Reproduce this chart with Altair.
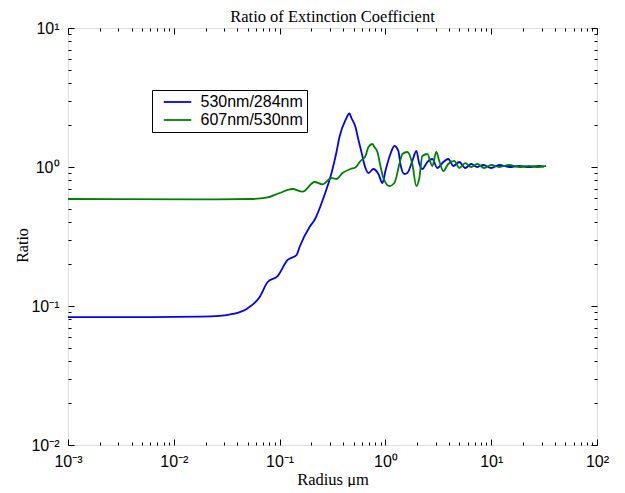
import json
import altair as alt
import pandas as pd

# ---- data ----
series_names = ["530nm/284nm", "607nm/530nm"]
series_colors = ["#0000ff", "#008000"]

blue_radius = [0.001, 0.00594, 0.01759, 0.02716, 0.03602, 0.04884, 0.06477, 0.07706, 0.09574,
               0.1190, 0.1447, 0.1544, 0.1919, 0.2139, 0.2657, 0.3095, 0.3449, 0.3681, 0.4195,
               0.4575, 0.4777, 0.5212, 0.5564, 0.5937, 0.6477, 0.6912, 0.7706, 0.8590, 0.9369,
               1.0, 1.115, 1.216, 1.326, 1.385, 1.511, 1.612, 1.797, 1.961, 2.093, 2.234, 2.490,
               2.776, 3.095, 3.526, 3.929, 4.380, 4.990, 5.684, 6.477, 7.378, 8.406, 10.0, 11.90,
               14.78, 18.37, 22.83, 28.37, 31.62]
blue_ratio = [0.0833, 0.0833, 0.0838, 0.0848, 0.0876, 0.0952, 0.1161, 0.1488, 0.1643,
              0.2143, 0.2328, 0.2657, 0.3701, 0.4156, 0.6287, 0.9053, 1.282, 1.644, 2.178,
              2.426, 2.252, 1.940, 1.564, 1.282, 0.9835, 0.9053, 0.9674, 0.8905, 0.7672,
              0.9359, 1.240, 1.416, 1.304, 1.051, 0.8905, 0.9053, 1.105, 1.304, 1.051, 0.9674, 1.086,
              1.142, 0.9835, 1.086, 1.142, 1.017, 1.086, 0.9835, 1.051, 1.0, 1.034, 0.9835, 1.034,
              1.0, 1.017, 1.0, 1.017, 1.008]

green_radius = [0.001, 0.01759, 0.05212, 0.07540, 0.1, 0.1326, 0.1648, 0.2139, 0.2545, 0.3095,
                0.3449, 0.3929, 0.4675, 0.5212, 0.5810, 0.6477, 0.6912, 0.7542, 0.7874, 0.8404,
                0.8971, 0.9574, 1.091, 1.216, 1.356, 1.447, 1.612, 1.797, 1.961, 2.093, 2.234,
                2.490, 2.776, 3.028, 3.231, 3.526, 3.929, 4.476, 4.990, 5.684, 6.477, 7.378,
                8.590, 10.0, 11.90, 14.78, 18.37, 22.83, 28.37, 33.03]
green_ratio = [0.5886, 0.5855, 0.5886, 0.6013, 0.6501, 0.6945, 0.6643, 0.7800, 0.7508, 0.8335,
               0.8198, 0.9053, 0.9674, 0.9918, 1.105, 1.200, 1.393, 1.464, 1.393, 1.282,
               1.017, 0.8335, 0.7301, 0.7672, 1.051, 1.240, 1.282, 1.051, 0.7301, 0.8335, 1.200,
               1.240, 1.017, 1.282, 1.105, 0.9359, 1.051, 1.105, 0.9835, 1.068, 1.0, 1.051,
               0.9835, 1.034, 1.0, 1.034, 1.0, 1.017, 1.0, 1.017]

x_major = [0.001, 0.01, 0.1, 1, 10, 100]
x_tick_labels = ["10\u207b\u00b3", "10\u207b\u00b2", "10\u207b\u00b9", "10\u2070", "10\u00b9", "10\u00b2"]
y_major = [0.01, 0.1, 1, 10]
y_tick_labels = ["10\u207b\u00b2", "10\u207b\u00b9", "10\u2070", "10\u00b9"]
x_minor = [m * d for d in x_major[:-1] for m in range(2, 10)]
y_minor = [m * d for d in y_major[:-1] for m in range(2, 10)]

title_text = "Ratio of Extinction Coefficient"
x_title = "Radius \u03bcm"
y_title = "Ratio"

df = pd.DataFrame({
    "radius": blue_radius + green_radius,
    "ratio": blue_ratio + green_ratio,
    "series": [series_names[0]] * len(blue_radius) + [series_names[1]] * len(green_radius),
})

xscale = alt.Scale(type="log", domain=[x_major[0], x_major[-1]], nice=False)
yscale = alt.Scale(type="log", domain=[y_major[0], y_major[-1]], nice=False)

SANS = "Liberation Sans"
SERIF = "Liberation Serif"

x_label_expr = json.dumps(x_tick_labels) + "[round(log(datum.value)/LN10) + 3]"
y_label_expr = json.dumps(y_tick_labels) + "[round(log(datum.value)/LN10) + 2]"


def tick_axis(orient, values, size):
    return alt.Axis(orient=orient, values=values, tickSize=size, offset=-size,
                    domain=False, grid=False, labels=False, ticks=True,
                    tickColor="black", tickWidth=1, minExtent=0, maxExtent=0)


lines = alt.Chart(df).mark_line(strokeWidth=1.8, interpolate="monotone").encode(
    x=alt.X("radius:Q", scale=xscale, title=x_title,
            axis=alt.Axis(orient="bottom", values=x_major, tickSize=6, offset=-6,
                          domain=False, grid=False, tickColor="black", tickWidth=1,
                          labelExpr=x_label_expr, labelFont=SANS, labelFontSize=16,
                          labelColor="black", labelPadding=8, labelFlush=False,
                          titleFont=SERIF, titleFontSize=16.5, titleFontWeight="normal",
                          titleColor="black", titleBaseline="alphabetic", titleY=45)),
    y=alt.Y("ratio:Q", scale=yscale, title=y_title,
            axis=alt.Axis(orient="left", values=y_major, tickSize=6, offset=-6,
                          domain=False, grid=False, tickColor="black", tickWidth=1,
                          labelExpr=y_label_expr, labelFont=SANS, labelFontSize=16,
                          labelColor="black", labelPadding=9, labelFlush=False,
                          titleFont=SERIF, titleFontSize=16, titleFontWeight="normal",
                          titleColor="black", titleBaseline="alphabetic",
                          titleX=-47, titleY=217)),
    color=alt.Color("series:N",
                    scale=alt.Scale(domain=series_names, range=series_colors),
                    legend=alt.Legend(title=None, orient="none", legendX=84, legendY=62,
                                      direction="vertical", fillColor="white",
                                      strokeColor="black", padding=4,
                                      symbolType="M-2.5,0H2.5", symbolSize=121,
                                      symbolStrokeWidth=1.8, symbolOffset=13.5,
                                      labelOffset=15, labelFont=SANS, labelFontSize=16,
                                      labelColor="black",
                                      labelExpr="datum.label + '\u00a0\u00a0'",
                                      rowPadding=2, cornerRadius=0)),
)


def ghost(xaxis, yaxis):
    return alt.Chart(df).mark_line(strokeOpacity=0).encode(
        x=alt.X("radius:Q", scale=xscale, title=None, axis=xaxis),
        y=alt.Y("ratio:Q", scale=yscale, title=None, axis=yaxis),
        detail="series:N",
    )


g1 = ghost(tick_axis("bottom", x_minor, 3), tick_axis("left", y_minor, 3))
g2 = ghost(tick_axis("top", x_major, 6), tick_axis("right", y_major, 6))
g3 = ghost(tick_axis("top", x_minor, 3), tick_axis("right", y_minor, 3))

chart = alt.layer(lines, g1, g2, g3).resolve_axis(
    x="independent", y="independent"
).properties(
    width=529, height=417,
    title=alt.TitleParams(title_text, font=SERIF, fontSize=16.5, fontWeight="normal",
                          color="black", anchor="middle", frame="group", offset=0, dy=5),
    autosize=alt.AutoSizeParams(type="none"),
    padding={"left": 60, "top": 20, "right": 20, "bottom": 42},
).configure_view(stroke="black", strokeWidth=2).configure(background="white")

chart.save("out.html", embed_options={"renderer": "svg", "actions": False})
